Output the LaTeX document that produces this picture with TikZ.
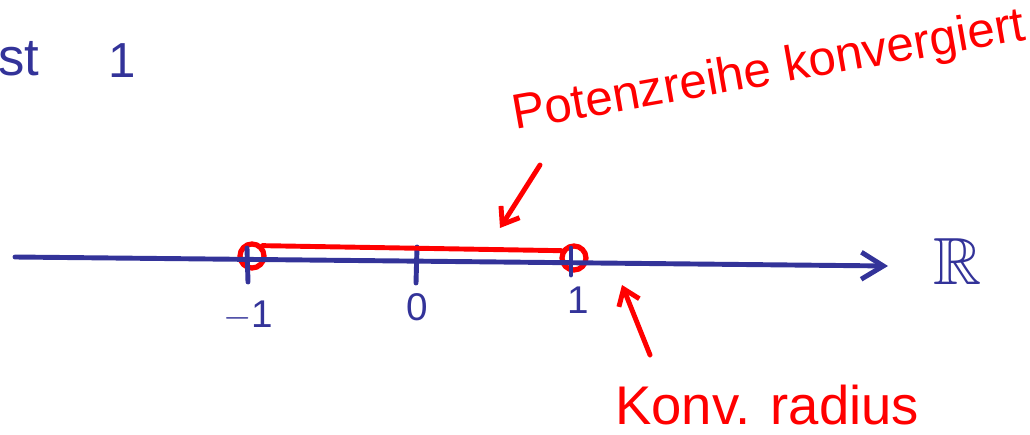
\documentclass[tikz,border=0pt]{standalone}
\usepackage{fontspec}
\setmainfont{Liberation Sans}
\usepackage{amssymb}
\usetikzlibrary{arrows.meta}
\definecolor{inkblue}{HTML}{333399}
\definecolor{inkred}{HTML}{FF0000}

\begin{document}
\begin{tikzpicture}[x=0.02cm,y=-0.02cm,line cap=round,line join=round,
    blueink/.style={draw=inkblue,line width=2.8pt},
    redink/.style={draw=inkred,line width=2.8pt},
    bluetext/.style={text=inkblue,inner sep=0pt,font=\fontsize{22}{26}\selectfont},
    redtext/.style={text=inkred,inner sep=0pt,font=\fontsize{28}{32}\selectfont},
    redring/.style={circle,draw=inkred,line width=3pt,minimum size=24*0.02cm,inner sep=0pt}]
        \useasboundingbox (0,0) rectangle (1030,435);
        \clip (0,0) rectangle (1030,435);
        \coordinate (xl) at (15,257);
        \coordinate (xr) at (888,266);
        \coordinate (t1a) at (247,248);
        \coordinate (t1b) at (248,282);
        \coordinate (t0a) at (417,247);
        \coordinate (t0b) at (416,283);
        \coordinate (t2a) at (571,248);
        \coordinate (t2b) at (571,275);
        \coordinate (p1) at (540,165);
        \coordinate (p2) at (500,228);
        \coordinate (q1) at (650,355);
        \coordinate (q2) at (622,285);
        \node[bluetext,font=\fontsize{30}{34}\selectfont,anchor=base east] (ist) at (40,76) {ist};
        \node[bluetext,font=\fontsize{28}{32}\selectfont,anchor=base] (eins) at (122,78) {1};
        \node[bluetext] (lm1) at (248,316) {$-$1};
        \node[bluetext] (l0) at (417,307) {0};
        \node[bluetext] (l1) at (578,300) {1};
        \node[text=inkblue,inner sep=0pt,font=\fontsize{38}{42}\selectfont] (reals) at (958,262) {$\mathbb{R}$};
        \node[redring] (cm1) at (252,256) {};
        \node[redring] (cp1) at (574,258) {};
        \node[redtext,rotate=10,anchor=base west] (pot) at (515,130) {Potenzreihe konvergiert};
        \node[redtext,font=\fontsize{31}{35}\selectfont,anchor=base west] (krad) at (615,424) {Konv. radius};
        \draw[blueink,-{Straight Barb[length=4.4mm,width=5.4mm]}] (xl) -- (xr);
        \draw[blueink] (t1a) -- (t1b);
        \draw[blueink] (t0a) -- (t0b);
        \draw[blueink] (t2a) -- (t2b);
        \draw[redink] (cm1.45) -- (cp1.150);
        \draw[redink,-{Straight Barb[length=3mm,width=4.4mm]}] (p1) -- (p2);
        \draw[redink,-{Straight Barb[length=3mm,width=4.4mm]}] (q1) -- (q2);
    \end{tikzpicture}
\end{document}
